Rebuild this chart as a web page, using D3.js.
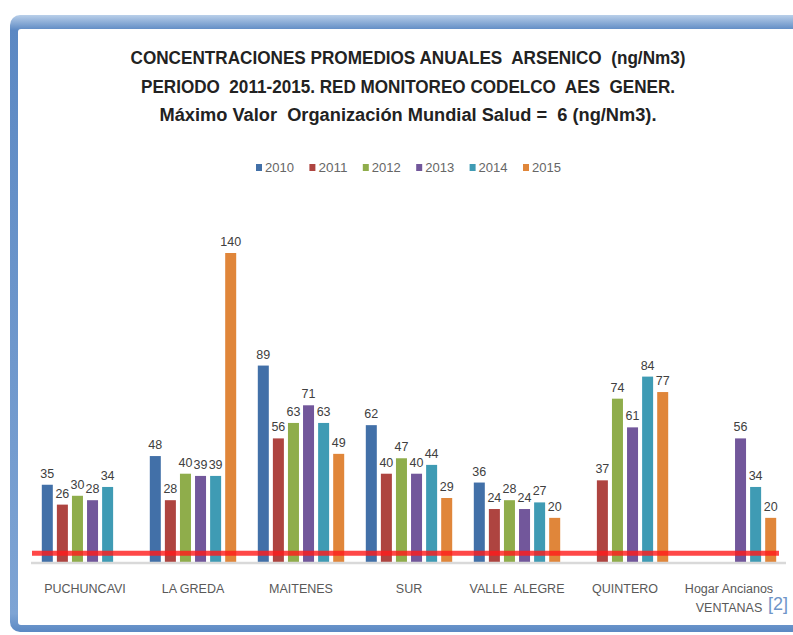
<!DOCTYPE html>
<html>
<head>
<meta charset="utf-8">
<script src="https://cdn.jsdelivr.net/npm/d3@7"></script>
<style>
  html, body { margin: 0; padding: 0; background: #fff; }
  svg { display: block; }
</style>
</head>
<body>
<div id="chart"></div>
<script>
// values
const categories = ['PUCHUNCAVI', 'LA GREDA', 'MAITENES', 'SUR', 'VALLE  ALEGRE', 'QUINTERO', 'Hogar Ancianos|VENTANAS'];
const years = ['2010', '2011', '2012', '2013', '2014', '2015'];
const values2010 = [35, 48, 89, 62, 36, null, null];
const values2011 = [26, 28, 56, 40, 24, 37, null];
const values2012 = [30, 40, 63, 47, 28, 74, null];
const values2013 = [28, 39, 71, 40, 24, 61, 56];
const values2014 = [34, 39, 63, 44, 27, 84, 34];
const values2015 = [null, 140, 49, 29, 20, 77, 20];
const seriesColors = ['#4270a8', '#ae4440', '#8fad4b', '#72579b', '#3f9bb4', '#e0863a'];
const titleLines = [
    'CONCENTRACIONES PROMEDIOS ANUALES  ARSENICO  (ng/Nm3)',
    'PERIODO  2011-2015. RED MONITOREO CODELCO  AES  GENER.',
    'Máximo Valor  Organización Mundial Salud =  6 (ng/Nm3).'
];
// red reference line, as it sits in the picture
const limitValue = 4;

const series = [values2010, values2011, values2012, values2013, values2014, values2015];

const W = 793, H = 635;
const svg = d3.select('#chart').append('svg')
    .attr('width', W)
    .attr('height', H);

/**
 * slide frame
 */
const defs = svg.append('defs');
const grad = defs.append('linearGradient')
    .attr('id', 'frameGrad')
    .attr('x1', 0).attr('y1', 0).attr('x2', 0).attr('y2', 1);
grad.append('stop').attr('offset', '0%').attr('stop-color', '#b9cfe9');
grad.append('stop').attr('offset', '2.5%').attr('stop-color', '#5b88c3');
grad.append('stop').attr('offset', '97%').attr('stop-color', '#7ea4d4');
grad.append('stop').attr('offset', '100%').attr('stop-color', '#5b88c3');

svg.append('rect')
    .attr('x', 10).attr('y', 15)
    .attr('width', 820).attr('height', 617)
    .attr('rx', 10)
    .style('fill', 'url(#frameGrad)');
svg.append('rect')
    .attr('x', 18).attr('y', 29)
    .attr('width', 810).attr('height', 596)
    .attr('rx', 3)
    .style('fill', '#ffffff');

/**
 * title
 */
const titleSpec = [
    { y: 64, len: 555 },
    { y: 92.5, len: 534 },
    { y: 121, len: 497 }
];
titleLines.forEach((line, i) => {
    svg.append('text')
        .attr('x', 408)
        .attr('y', titleSpec[i].y)
        .attr('text-anchor', 'middle')
        .attr('textLength', titleSpec[i].len)
        .attr('lengthAdjust', 'spacingAndGlyphs')
        .style('font-family', '"Liberation Sans Narrow", "Liberation Sans", sans-serif')
        .style('font-weight', 'bold')
        .style('font-size', '18px')
        .style('fill', '#222')
        .style('white-space', 'pre')
        .text(line);
});

/**
 * legend
 */
const legend = svg.append('g').attr('transform', 'translate(256,168)');
years.forEach((yr, i) => {
    const g = legend.append('g').attr('transform', `translate(${i * 53.4},0)`);
    g.append('rect')
        .attr('x', 0).attr('y', -4)
        .attr('width', 6).attr('height', 7)
        .style('fill', seriesColors[i]);
    g.append('text')
        .attr('x', 9).attr('y', 4)
        .attr('textLength', 29)
        .attr('lengthAdjust', 'spacingAndGlyphs')
        .style('font-family', '"Liberation Sans", sans-serif')
        .style('font-size', '12px')
        .style('fill', '#666')
        .text(yr);
});

/**
 * scales
 */
const x0 = d3.scaleBand()
    .domain(categories)
    .range([31, 787])
    .paddingInner(0.2)
    .paddingOuter(0.1);

const x1 = d3.scaleBand()
    .domain(years)
    .range([0, x0.bandwidth()])
    .paddingInner(0.27);

const y = d3.scaleLinear()
    .domain([0, 140])
    .range([562, 253]);

/**
 * bars + labels
 */
const rows = [];
categories.forEach((cat, ci) => {
    years.forEach((yr, si) => {
        const v = series[si][ci];
        if (v !== null) rows.push({ cat: cat, year: yr, value: v, color: seriesColors[si] });
    });
});

const plot = svg.append('g');

plot.selectAll('rect.bar')
    .data(rows)
    .enter().append('rect')
    .attr('class', 'bar')
    .attr('x', d => x0(d.cat) + x1(d.year))
    .attr('y', d => y(d.value))
    .attr('width', x1.bandwidth())
    .attr('height', d => y(0) - y(d.value))
    .style('fill', d => d.color);

plot.selectAll('text.val')
    .data(rows)
    .enter().append('text')
    .attr('class', 'val')
    .attr('x', d => x0(d.cat) + x1(d.year) + x1.bandwidth() / 2)
    .attr('y', d => y(d.value) - 7)
    .attr('text-anchor', 'middle')
    .style('font-family', '"Liberation Sans", sans-serif')
    .style('font-size', '12.5px')
    .style('fill', '#404040')
    .text(d => d.value);

// category axis line
plot.append('line')
    .attr('x1', 31).attr('x2', 786)
    .attr('y1', y(0) + 1).attr('y2', y(0) + 1)
    .style('stroke', '#d9d9d9')
    .style('stroke-width', 2.5);

// WHO limit line
plot.append('line')
    .attr('x1', 32).attr('x2', 779)
    .attr('y1', y(limitValue)).attr('y2', y(limitValue))
    .style('stroke', '#ff1a1a')
    .style('stroke-opacity', 0.8)
    .style('stroke-width', 5);

/**
 * category labels
 */
categories.forEach(cat => {
    const parts = cat.split('|');
    const t = svg.append('text')
        .attr('text-anchor', 'middle')
        .style('font-family', '"Liberation Sans", sans-serif')
        .style('font-size', '12.5px')
        .style('fill', '#595959')
        .style('white-space', 'pre');
    parts.forEach((p, i) => {
        t.append('tspan')
            .attr('x', x0(cat) + x0.bandwidth() / 2 - (parts.length > 1 ? 4 : 0))
            .attr('y', 593 + i * 19)
            .text(p);
    });
});

// reference mark in the corner
svg.append('text')
    .attr('x', 768).attr('y', 610)
    .style('font-family', '"Liberation Sans", sans-serif')
    .style('font-size', '18px')
    .style('font-weight', '300')
    .style('fill', '#6f95c8')
    .text('[2]');
</script>
</body>
</html>
